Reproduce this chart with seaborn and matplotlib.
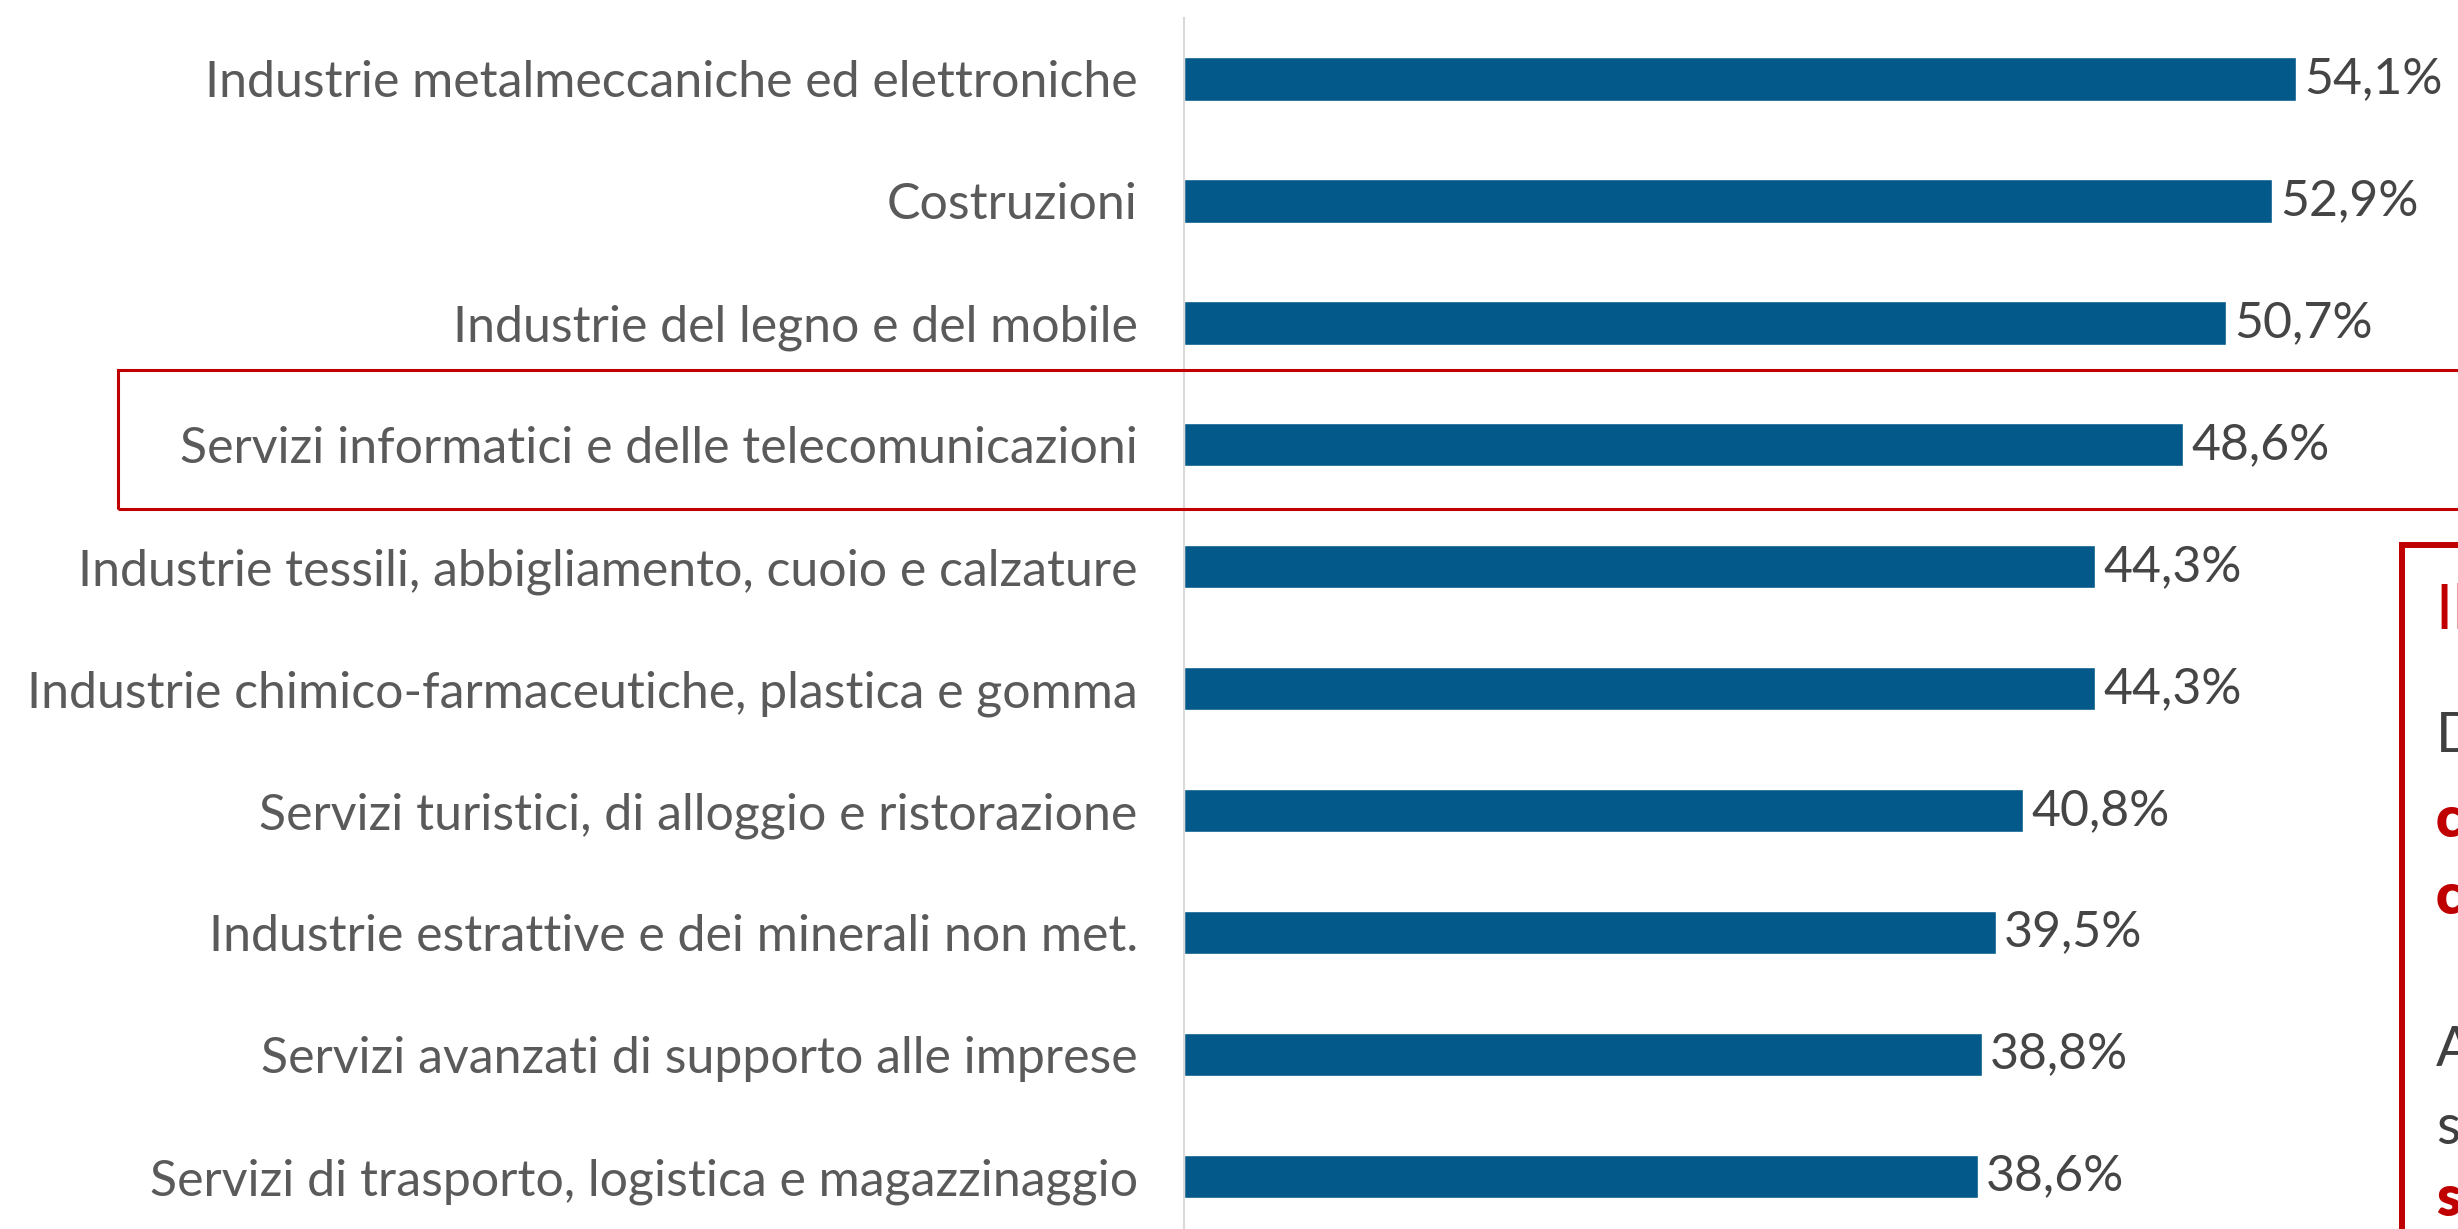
import matplotlib
matplotlib.use("Agg")
import matplotlib.pyplot as plt
import seaborn as sns
import pandas as pd
from matplotlib.patches import Rectangle

# data
settori = [
    "Industrie metalmeccaniche ed elettroniche",
    "Costruzioni",
    "Industrie del legno e del mobile",
    "Servizi informatici e delle telecomunicazioni",
    "Industrie tessili, abbigliamento, cuoio e calzature",
    "Industrie chimico-farmaceutiche, plastica e gomma",
    "Servizi turistici, di alloggio e ristorazione",
    "Industrie estrattive e dei minerali non met.",
    "Servizi avanzati di supporto alle imprese",
    "Servizi di trasporto, logistica e magazzinaggio",
]
valori = [54.1, 52.9, 50.7, 48.6, 44.3, 44.3, 40.8, 39.5, 38.8, 38.6]
evidenziato = "Servizi informatici e delle telecomunicazioni"

df = pd.DataFrame({"settore": settori, "valore": valori})

W, H = 2458, 1229
sns.set_style("white")
plt.rcParams["font.family"] = ["Lato", "DejaVu Sans"]

fig = plt.figure(figsize=(W / 100, H / 100), dpi=100)
ax = fig.add_axes([1183.5 / W, 0, 1 - 1183.5 / W, 1 - 18 / H])

sns.barplot(data=df, x="valore", y="settore", orient="h", color="#035a8a",
            width=0.355, saturation=1, ax=ax)

ax.set_xlim(0, (W - 1183.5) / 20.57)
ax.set_ylim(9.43, -0.5)
ax.set_xlabel("")
ax.set_ylabel("")
ax.set_xticks([])
for s in ["top", "right", "bottom"]:
    ax.spines[s].set_visible(False)
ax.spines["left"].set_color("#d9d9d9")
ax.spines["left"].set_linewidth(1.5)
ax.tick_params(axis="y", length=0, pad=33, labelsize=36, labelcolor="#5a5a5a")

for i, v in enumerate(valori):
    ax.text(v + 0.4, i, f"{v:.1f}%".replace(".", ","), va="center", ha="left",
            fontsize=36, color="#454545")

# red frame around the highlighted sector
y0 = 1 - 509 / H
y1 = 1 - 370 / H
fig.patches.append(Rectangle((117.6 / W, y0), 1.0, y1 - y0, transform=fig.transFigure,
                             fill=False, edgecolor="#c00000", linewidth=2.2))

# commentary box on the right (cut off by the page edge)
fig.patches.append(Rectangle((2402 / W, -0.05), 0.2, 1 - 545 / H + 0.05,
                             transform=fig.transFigure, fill=False,
                             edgecolor="#c00000", linewidth=4.3))
box_x = 2436 / W
fig.text(box_x, 1 - 611 / H, "Il settore ICT", color="#c00000", fontsize=44,
         va="center")
fig.text(box_x, 1 - 737 / H, "Difficoltà di reperimento", color="#404040",
         fontsize=40, va="center")
fig.text(box_x, 1 - 820 / H, "circa un profilo", color="#c00000", fontsize=40,
         va="center", fontweight="heavy")
fig.text(box_x, 1 - 897 / H, "cercato su due", color="#c00000", fontsize=40,
         va="center", fontweight="heavy")
fig.text(box_x, 1 - 1050 / H, "Anche", color="#404040", fontsize=40,
         va="center")
fig.text(box_x, 1 - 1129 / H, "sono", color="#404040", fontsize=40,
         va="center")
fig.text(box_x, 1 - 1199 / H, "sempre", color="#c00000", fontsize=40,
         va="center", fontweight="heavy")

fig.savefig("out.png", dpi=100)
